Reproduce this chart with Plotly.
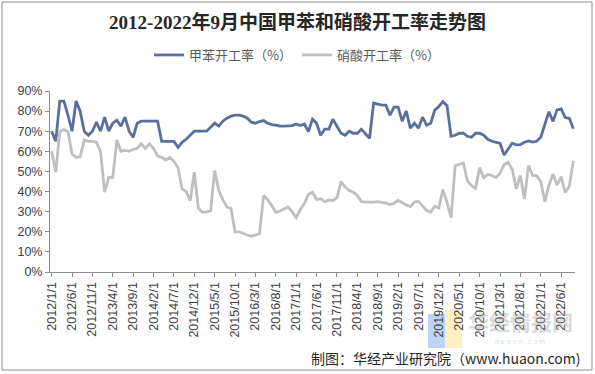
import pandas as pd
import plotly.graph_objects as go

# Monthly categories 2012/1 .. 2022/9
months = [f"{d.year}/{d.month}/1" for d in pd.date_range("2012-01-01", "2022-09-01", freq="MS")]

toluene = [
    70, 65, 85, 85, 78, 70, 85, 80, 70, 68,
    70, 74.5, 70, 77, 70, 74, 75.5, 72.5, 77, 70,
    67, 74, 75, 75, 75, 75, 75, 65, 65, 65,
    65, 62, 64.5, 66, 68, 70, 70, 70, 70, 72,
    74, 72.5, 75, 76.5, 77.5, 78, 78, 77.5, 76.5, 74.5,
    74, 74.8, 75.3, 74, 73.3, 73, 72.5, 72.5, 72.5, 72.8,
    73.6, 72.8, 73.6, 69.8, 76, 74, 68, 71, 71, 76,
    72.5, 69, 68, 70, 69, 69, 71, 68.5, 66.5, 84,
    83.5, 83, 83, 78, 82, 82, 75, 80, 71.5, 74,
    71.5, 77, 73, 74, 80.5, 82.3, 84.7, 82.7, 67.5, 68,
    69, 69, 67.5, 67, 69, 69, 68, 66, 65, 64.5,
    64, 58.2, 61, 64, 63.2, 63.3, 64.5, 65.2, 64.6, 65,
    67, 73, 79.7, 74.9, 80.6, 81.1, 76.8, 76.4, 71.2,
]

nitric = [
    60, 49.6, 69.8, 70.8, 69.8, 58.7, 57, 57.3, 65.7, 65,
    65, 64.5, 60, 39.7, 47.1, 47.1, 65.7, 60, 60.5, 60,
    61, 61.5, 63.7, 61.5, 63.7, 61.5, 57.6, 57, 55.7, 57,
    55, 52, 41.3, 40, 35.5, 49.6, 31.7, 29.7, 29.9, 30.5,
    50.4, 40.5, 36, 32.3, 31.7, 20, 20, 19, 18.4, 17.8,
    18.3, 19, 38, 36, 33, 29.7, 30.3, 31.3, 32.3, 30,
    27, 31, 34, 38.5, 39.7, 36, 36.5, 35, 35.8, 35.5,
    37, 45, 42.2, 40.5, 39.7, 38, 35, 34.8, 34.6, 34.7,
    35, 34.8, 34.3, 33.5, 34.2, 35.6, 34.3, 33.3, 32.5, 34.8,
    35.2, 33, 30.5, 29.8, 32.7, 31.8, 41, 34.7, 27, 52.8,
    53.4, 54.2, 45.3, 43, 41.6, 51.9, 46.8, 48.5, 48, 47,
    49, 53.5, 54.5, 51, 41.3, 48, 36.3, 53, 48, 47.8,
    45, 35, 43, 48.7, 43.2, 47.4, 39.5, 42.6, 55.3,
]

tick_labels = months[::5]
y_ticks = [0, 10, 20, 30, 40, 50, 60, 70, 80, 90]

series_names = ["甲苯开工率（%）", "硝酸开工率（%）"]
colors = ["#5A6F9C", "#BFBFBF"]

FONT = "Liberation Sans, Arial, Noto Sans CJK SC, sans-serif"
CJK = "Noto Sans CJK SC, Liberation Sans, sans-serif"

fig = go.Figure()
for name, vals, col in zip(series_names, [toluene, nitric], colors):
    fig.add_trace(go.Scatter(x=months, y=vals, mode="lines", name=name,
                             line=dict(color=col, width=2.8)))

W, H = 595, 374
L, R, T, B = 50, 20, 91, 102
pw, ph = W - L - R, H - T - B

def px(xp):
    return (xp - L) / pw

def py(yp):
    return (H - B - yp) / ph

fig.update_layout(
    width=W, height=H,
    margin=dict(l=L, r=R, t=T, b=B),
    paper_bgcolor="white", plot_bgcolor="white",
    title=dict(text="<b>2012-2022年9月中国甲苯和硝酸开工率走势图</b>",
               x=0.5, xanchor="center", y=1 - 22 / H, yanchor="middle",
               yref="container",
               font=dict(family="Liberation Serif, Noto Sans CJK SC, serif", size=19, color="#262626")),
    legend=dict(orientation="h", x=px(297), xanchor="center", y=py(55), yanchor="middle",
                font=dict(family=CJK, size=13, color="#595959"),
                itemwidth=30, bgcolor="rgba(0,0,0,0)"),
    xaxis=dict(type="category", range=[-0.4, 128.4],
               tickmode="array", tickvals=tick_labels, ticktext=tick_labels,
               tickangle=-90, showline=True, linecolor="#8C8C8C", linewidth=1,
               ticks="outside", ticklen=4, tickcolor="#8C8C8C",
               showgrid=False, zeroline=False,
               tickfont=dict(family=FONT, size=12.5, color="#404040")),
    yaxis=dict(range=[0, 90], tickmode="array", tickvals=y_ticks,
               ticktext=[f"{v}%" for v in y_ticks],
               showline=True, linecolor="#8C8C8C", linewidth=1,
               ticks="outside", ticklen=4, tickcolor="#8C8C8C",
               showgrid=False, zeroline=False,
               tickfont=dict(family=FONT, size=12.5, color="#404040")),
    showlegend=True,
    hovermode=False,
)

# outer border of the picture
fig.add_shape(type="rect", xref="paper", yref="paper",
              x0=px(2), x1=px(592), y0=py(370), y1=py(2),
              line=dict(color="#8C8C8C", width=1), fillcolor="rgba(0,0,0,0)", layer="below")

# faint watermark logo
fig.add_shape(type="rect", xref="paper", yref="paper",
              x0=px(428), x1=px(445), y0=py(348), y1=py(314),
              line=dict(width=0), fillcolor="rgba(120,170,240,0.5)", layer="below")
fig.add_shape(type="rect", xref="paper", yref="paper",
              x0=px(445), x1=px(462), y0=py(348), y1=py(310),
              line=dict(width=0), fillcolor="rgba(250,225,140,0.55)", layer="below")
fig.add_annotation(text="<b>华经情报网</b>", xref="paper", yref="paper",
                   x=px(520), y=py(321), xanchor="center", yanchor="middle", showarrow=False,
                   font=dict(family=CJK, size=21, color="rgba(170,170,170,0.45)"))
fig.add_annotation(text="h u a o n . c o m", xref="paper", yref="paper",
                   x=px(520), y=py(341), xanchor="center", yanchor="middle", showarrow=False,
                   font=dict(family=FONT, size=7, color="rgba(180,180,180,0.5)"))

fig.add_annotation(text="制图：华经产业研究院（www.huaon.com)", xref="paper", yref="paper",
                   x=px(583), y=py(358), xanchor="right", yanchor="middle", showarrow=False,
                   font=dict(family=CJK, size=14, color="#262626"))

fig.write_html("out.html", config={"displayModeBar": False, "staticPlot": True},
               post_script="document.body.style.margin='0';document.body.style.overflow='hidden';")
